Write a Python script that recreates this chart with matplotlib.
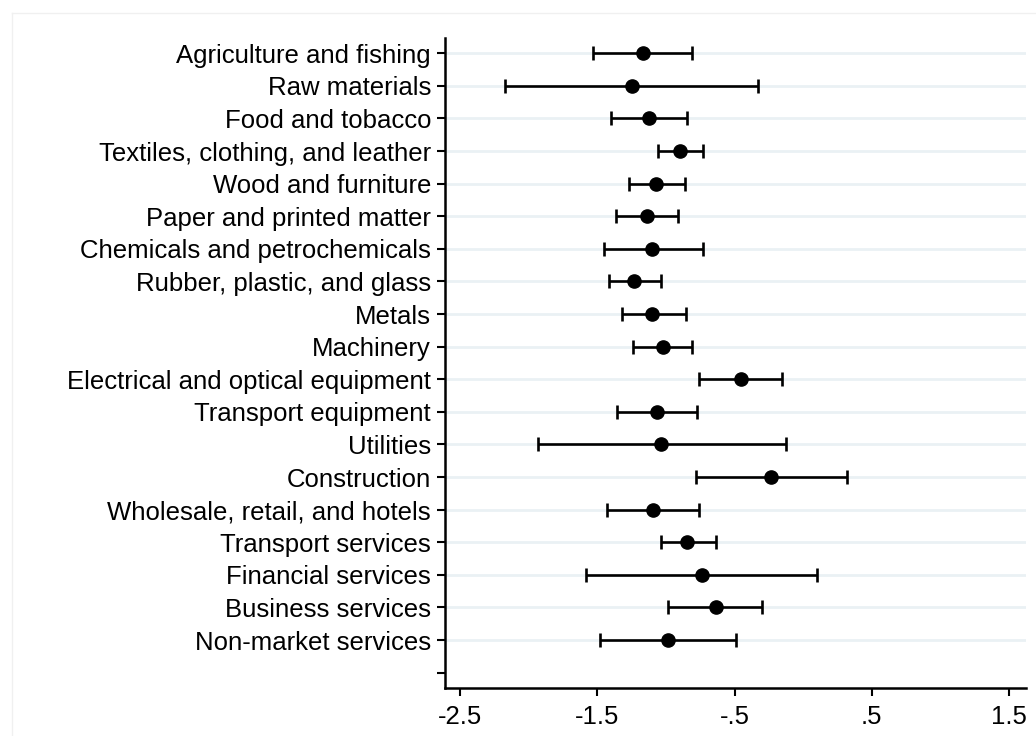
import matplotlib
matplotlib.use("Agg")
import matplotlib.pyplot as plt
from matplotlib.lines import Line2D

plt.rcParams['font.family'] = ['Liberation Sans', 'DejaVu Sans']

sectors = [
    "Agriculture and fishing",
    "Raw materials",
    "Food and tobacco",
    "Textiles, clothing, and leather",
    "Wood and furniture",
    "Paper and printed matter",
    "Chemicals and petrochemicals",
    "Rubber, plastic, and glass",
    "Metals",
    "Machinery",
    "Electrical and optical equipment",
    "Transport equipment",
    "Utilities",
    "Construction",
    "Wholesale, retail, and hotels",
    "Transport services",
    "Financial services",
    "Business services",
    "Non-market services",
]
coef = [-1.166, -1.25, -1.12, -0.894, -1.07, -1.14, -1.099, -1.232, -1.099, -1.023,
        -0.454, -1.064, -1.036, -0.235, -1.096, -0.843, -0.736, -0.636, -0.987]
ci_low = [-1.534, -2.172, -1.40, -1.06, -1.27, -1.36, -1.454, -1.417, -1.323, -1.239,
          -0.758, -1.359, -1.928, -0.777, -1.427, -1.033, -1.582, -0.984, -1.48]
ci_high = [-0.812, -0.33, -0.845, -0.73, -0.86, -0.91, -0.729, -1.033, -0.853, -0.812,
           -0.155, -0.775, -0.123, 0.318, -0.758, -0.634, 0.099, -0.298, -0.488]

xticks = [-2.5, -1.5, -0.5, 0.5, 1.5]
xticklabels = ["-2.5", "-1.5", "-.5", ".5", "1.5"]

fig = plt.figure(figsize=(10.36, 7.36), dpi=100)
ax = fig.add_axes([0.4295, 0.0652, 0.561, 0.8832])

# faint outer frame like the exported graph
fig.add_artist(Line2D([12 / 1036, 12 / 1036], [0, 1 - 13 / 736], color="#f0f0f0", lw=1))
fig.add_artist(Line2D([12 / 1036, 1], [1 - 13 / 736, 1 - 13 / 736], color="#f0f0f0", lw=1))

pos = list(range(len(sectors)))
for p in pos:
    ax.axhline(p, color="#eaf1f4", lw=2, zorder=0)

err = [[c - l for c, l in zip(coef, ci_low)], [h - c for c, h in zip(coef, ci_high)]]
ax.errorbar(coef, pos, xerr=err, fmt="o", color="black", ms=9.5, lw=1.9,
            capsize=4.8, capthick=1.9, zorder=3)

ax.set_yticks(pos + [len(sectors)])
ax.set_yticklabels(sectors + [""], fontsize=18.5)
ax.set_ylim(len(sectors) + 0.47, -0.47)

ax.set_xticks(xticks)
ax.set_xticklabels(xticklabels, fontsize=18.5)
ax.set_xlim(-2.609, 1.624)

for s in ["top", "right"]:
    ax.spines[s].set_visible(False)
for s in ["left", "bottom"]:
    ax.spines[s].set_linewidth(1.8)
ax.tick_params(axis="both", length=6, width=1.5, color="black")
ax.tick_params(axis="y", pad=4)
ax.tick_params(axis="x", pad=6)

fig.savefig("out.png", dpi=100)
